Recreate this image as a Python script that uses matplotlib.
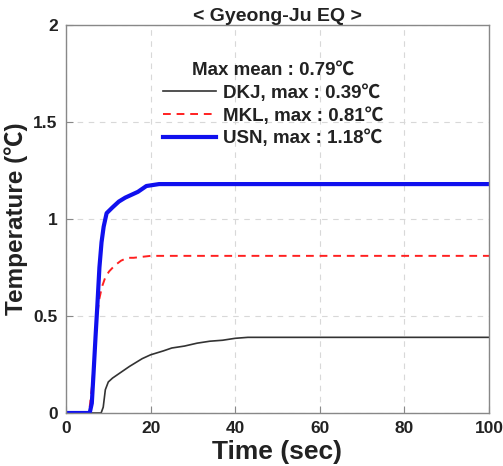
import matplotlib
matplotlib.use("Agg")
import matplotlib.pyplot as plt
import numpy as np

plt.rcParams['font.family'] = ['Liberation Sans', 'Noto Sans CJK KR', 'DejaVu Sans']

# DKJ
t_dkj = [0, 8.3, 8.8, 9.3, 10, 11, 13, 15, 18, 20, 23, 25, 28, 31, 34, 37, 40, 43, 45, 100]
v_dkj = [0, 0, 0.03, 0.12, 0.16, 0.18, 0.21, 0.24, 0.28, 0.30, 0.32, 0.335, 0.345, 0.36, 0.37, 0.375, 0.385, 0.39, 0.39, 0.39]
# MKL
t_mkl = [0, 5.0, 5.6, 6.2, 6.8, 7.3, 7.8, 8.5, 9.3, 10.2, 11.5, 13, 14.5, 16, 18, 20, 100]
v_mkl = [0, 0, 0.03, 0.15, 0.32, 0.48, 0.58, 0.65, 0.70, 0.73, 0.76, 0.785, 0.80, 0.80, 0.805, 0.81, 0.81]
# USN
t_usn = [0, 5.6, 6.1, 6.5, 7.0, 7.4, 7.9, 8.4, 8.9, 9.6, 11, 12.5, 14, 15.5, 17, 19, 22, 100]
v_usn = [0, 0, 0.05, 0.20, 0.40, 0.55, 0.75, 0.88, 0.96, 1.03, 1.06, 1.09, 1.11, 1.125, 1.14, 1.17, 1.18, 1.18]

x_ticks = [0, 20, 40, 60, 80, 100]
y_ticks = [0, 0.5, 1, 1.5, 2]
y_ticklabels = ['0', '0.5', '1', '1.5', '2']

fig = plt.figure(figsize=(5.03, 4.66), dpi=100)
ax = fig.add_axes([66/503, 1-413/466, (489-66)/503, (413-25)/466])

ax.plot(t_dkj, v_dkj, color='#333333', lw=1.2, label='DKJ, max : 0.39℃')
ax.plot(t_mkl, v_mkl, color='#ff2020', lw=1.4, ls=(0, (4, 3)), label='MKL, max : 0.81℃')
ax.plot(t_usn, v_usn, color='#1010ee', lw=3, label='USN, max : 1.18℃')

ax.set_xlim(0, 100)
ax.set_ylim(0, 2)
ax.set_xticks(x_ticks)
ax.set_yticks(y_ticks)
ax.set_yticklabels(y_ticklabels)
ax.grid(True, ls=(0, (5, 5)), color='#d8d8d8', lw=0.8)
ax.tick_params(direction='in', length=5, color='#888888', labelsize=12.5, pad=6)
for lab in ax.get_xticklabels() + ax.get_yticklabels():
    lab.set_fontweight('bold')
    lab.set_color('#222222')
for s in ax.spines.values():
    s.set_color('#888888')
    s.set_linewidth(1.0)

ax.set_title('< Gyeong-Ju EQ >', fontsize=14, fontweight='bold', pad=3, color='#222222')
ax.set_xlabel('Time (sec)', fontsize=19, fontweight='bold', color='#222222')
ax.set_ylabel('Temperature (℃)', fontsize=17.5, fontweight='bold', color='#222222')
ax.xaxis.set_label_coords(0.5, -0.07)
ax.yaxis.set_label_coords(-0.09, 0.5)

leg = ax.legend(loc='upper center', bbox_to_anchor=(0.49, 0.905), frameon=False,
                title='Max mean : 0.79℃', fontsize=13.5, handlelength=2.8,
                labelspacing=0.28, handletextpad=0.4, borderaxespad=0, borderpad=0)
leg.get_title().set_fontweight('bold')
leg.get_title().set_fontsize(13.5)
for txt in leg.get_texts():
    txt.set_fontweight('bold')
    txt.set_color('#222222')
leg.get_title().set_color('#222222')

fig.savefig('out.png', dpi=100)
